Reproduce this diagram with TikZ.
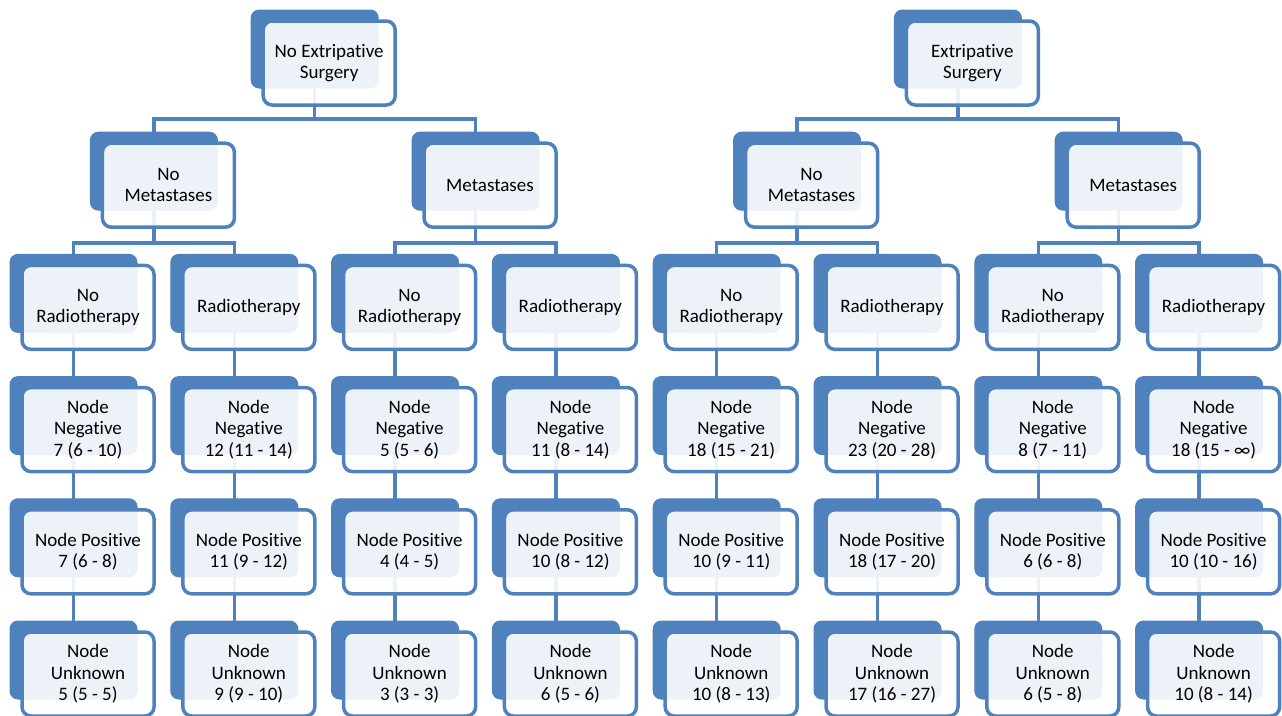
\documentclass[tikz,border=0pt]{standalone}
\usepackage{fontspec}
\setmainfont[Ligatures={NoCommon}]{Carlito}
\usetikzlibrary{calc}
\definecolor{ablue}{HTML}{4F81BD}
\pgfdeclarelayer{bg}
\pgfsetlayers{bg,main}
\tikzset{
  backbox/.style={draw=ablue, line width=1pt, fill=ablue, rounded corners=8pt,
    minimum width=127pt, minimum height=78pt, inner sep=0pt, outer sep=0pt, anchor=north west},
  frontbox/.style={draw=ablue, line width=3.5pt, fill=white, fill opacity=0.9, text opacity=1,
    rounded corners=9pt, minimum width=132pt, minimum height=84pt, inner sep=0pt, outer sep=0pt,
    anchor=north west, align=center, font=\fontsize{19}{21.5}\selectfont, text=black},
  conn/.style={draw=ablue, line width=3.5pt},
}
\newcommand\twobox[4]{%
  \node[backbox] (#1b) at (#2,#3) {};
  \node[frontbox] (#1) at (#2+12,#3+11) {#4};
}
\begin{document}
\begin{tikzpicture}[x=1pt,y=-1pt]
\useasboundingbox (0,0) rectangle (1282,715);
% roots
\twobox{rootL}{251.2}{10}{No Extripative\\Surgery}
\twobox{rootR}{894.4}{10}{Extripative\\Surgery}
% level 2
\twobox{mA}{90.4}{132.2}{No\\Metastases}
\twobox{mB}{412}{132.2}{Metastases}
\twobox{mC}{733.6}{132.2}{No\\Metastases}
\twobox{mD}{1055.2}{132.2}{Metastases}
% columns
\foreach \i/\t/\a/\b/\c in {
  0/{No\\Radiotherapy}/{7 (6 - 10)}/{7 (6 - 8)}/{5 (5 - 5)},
  1/{Radiotherapy}/{12 (11 - 14)}/{11 (9 - 12)}/{9 (9 - 10)},
  2/{No\\Radiotherapy}/{5 (5 - 6)}/{4 (4 - 5)}/{3 (3 - 3)},
  3/{Radiotherapy}/{11 (8 - 14)}/{10 (8 - 12)}/{6 (5 - 6)},
  4/{No\\Radiotherapy}/{18 (15 - 21)}/{10 (9 - 11)}/{10 (8 - 13)},
  5/{Radiotherapy}/{23 (20 - 28)}/{18 (17 - 20)}/{17 (16 - 27)},
  6/{No\\Radiotherapy}/{8 (7 - 11)}/{6 (6 - 8)}/{6 (5 - 8)},
  7/{Radiotherapy}/{18 (15 - ∞)}/{10 (10 - 16)}/{10 (8 - 14)}} {
  \pgfmathsetmacro\xx{10+160.8*\i}
  \twobox{r\i}{\xx}{254.4}{\t}
  \twobox{n\i}{\xx}{376.6}{Node\\Negative\\\a}
  \twobox{p\i}{\xx}{498.8}{Node Positive\\\b}
  \twobox{u\i}{\xx}{621}{Node\\Unknown\\\c}
  \begin{pgfonlayer}{bg}
    \draw[conn] (r\i b.center) -- (u\i b.center);
  \end{pgfonlayer}
}
% junctions
\coordinate (jL) at (314.7,119);
\coordinate (jR) at (957.9,119);
\coordinate (jA) at (153.9,243);
\coordinate (jB) at (475.5,243);
\coordinate (jC) at (797.1,243);
\coordinate (jD) at (1118.7,243);
\begin{pgfonlayer}{bg}
  \draw[conn] (rootLb.center) -- (jL);
  \draw[conn] (mAb.center) |- (jL) -| (mBb.center);
  \draw[conn] (rootRb.center) -- (jR);
  \draw[conn] (mCb.center) |- (jR) -| (mDb.center);
  \draw[conn] (mAb.center) -- (jA);
  \draw[conn] (r0b.center) |- (jA) -| (r1b.center);
  \draw[conn] (mBb.center) -- (jB);
  \draw[conn] (r2b.center) |- (jB) -| (r3b.center);
  \draw[conn] (mCb.center) -- (jC);
  \draw[conn] (r4b.center) |- (jC) -| (r5b.center);
  \draw[conn] (mDb.center) -- (jD);
  \draw[conn] (r6b.center) |- (jD) -| (r7b.center);
\end{pgfonlayer}
\end{tikzpicture}
\end{document}
